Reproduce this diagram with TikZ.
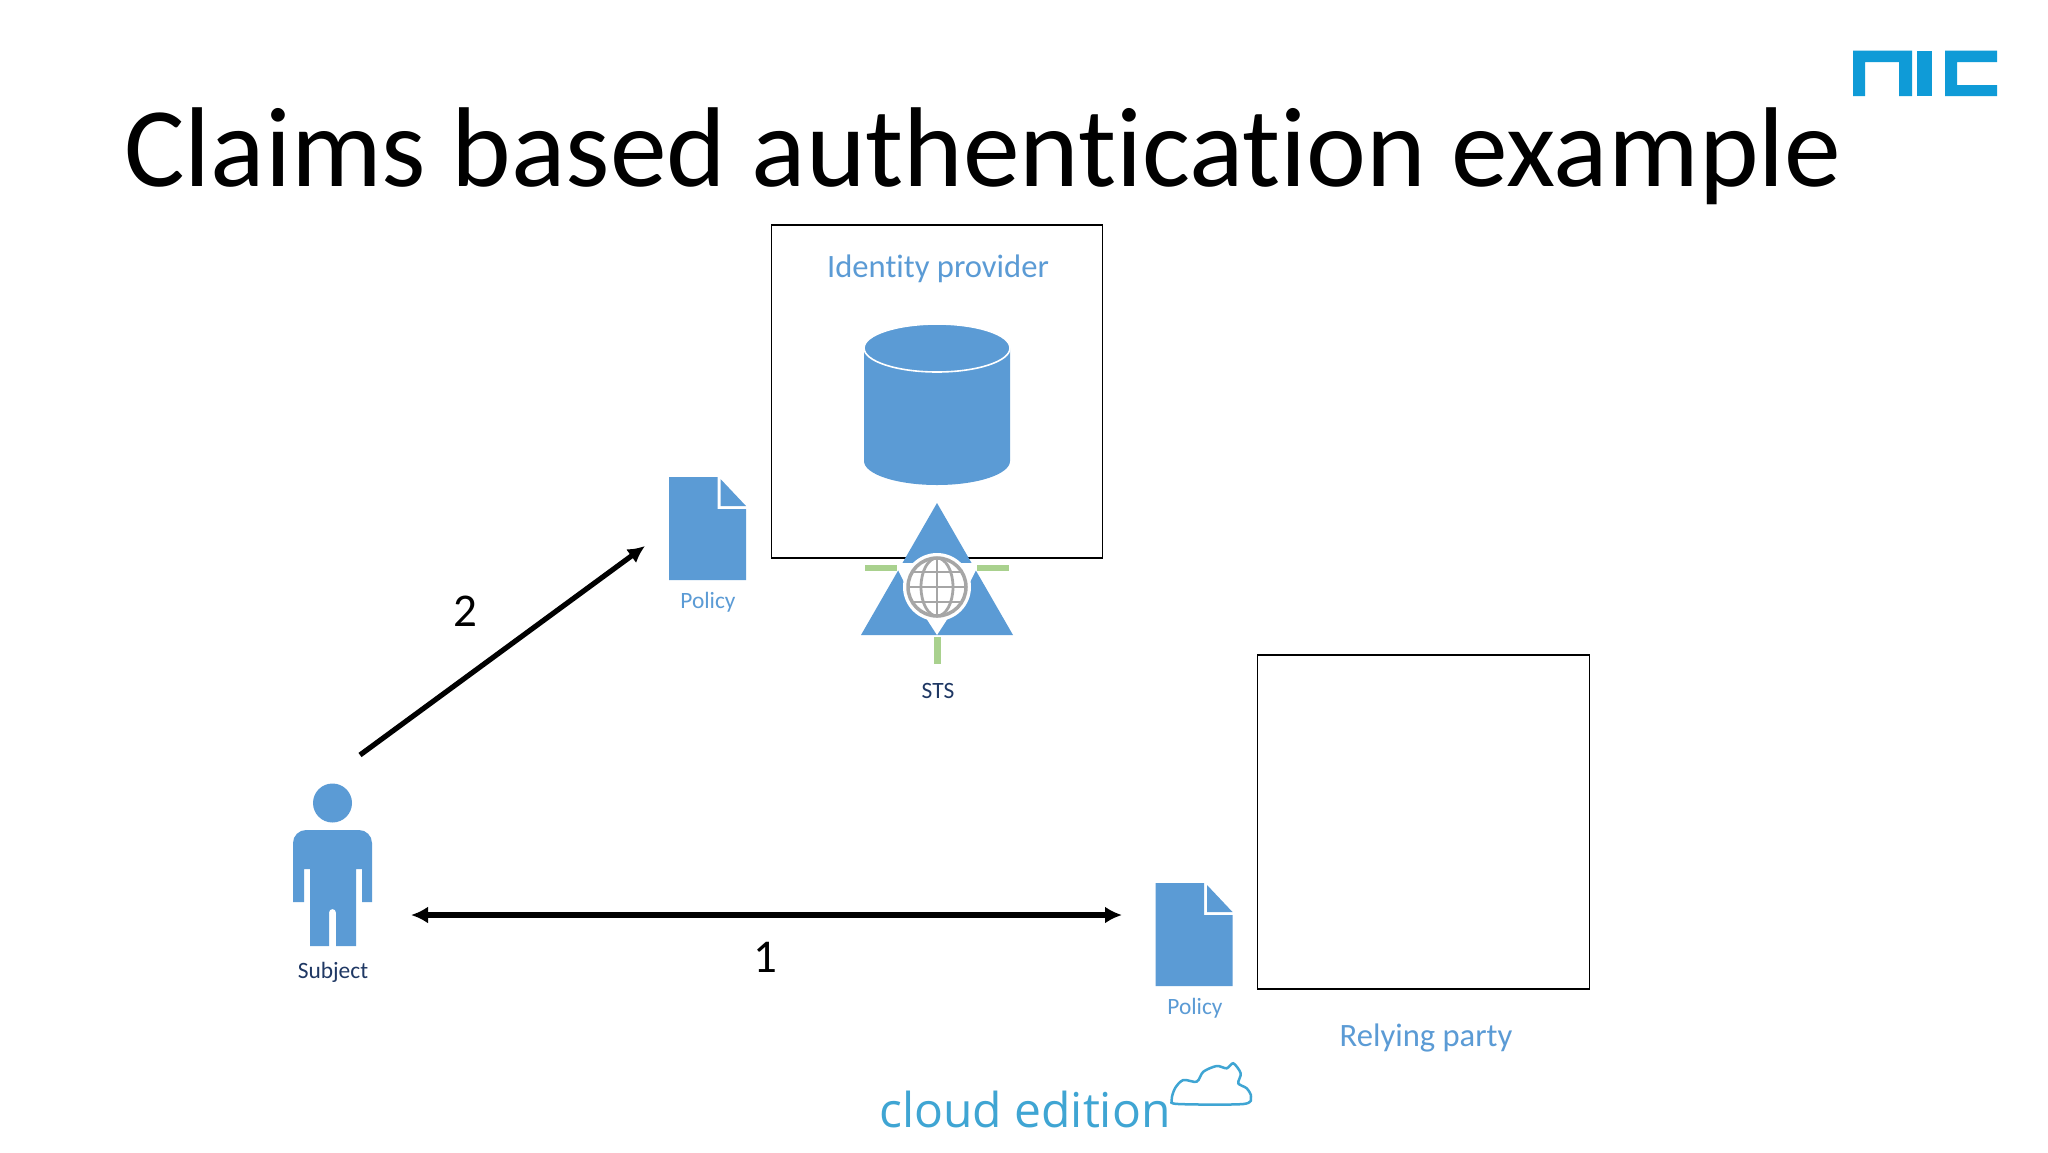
\documentclass[tikz,border=0pt]{standalone}
\usepackage{fontspec}
\setmainfont[Ligatures=NoCommon]{Carlito}
\newfontfamily\logofont{Open Sans}
\usetikzlibrary{arrows.meta,calc}
\definecolor{iconblue}{HTML}{5B9BD5}
\definecolor{labelnavy}{HTML}{1F3864}
\definecolor{tickgreen}{HTML}{A9D18E}
\definecolor{globegray}{HTML}{A6A6A6}
\definecolor{logoblue}{HTML}{0F9BD7}
\definecolor{cloudblue}{HTML}{3FA5D3}
\tikzset{>={Latex[length=17pt,width=17pt]}}
\tikzstyle{frame}=[draw,line width=1.3pt,inner sep=0pt,minimum width=331.5pt,minimum height=333pt]
\tikzstyle{blank}=[inner sep=0pt]
\tikzstyle{title}=[font=\fontsize{113.5}{113.5}\selectfont,anchor=base west,inner sep=0pt]
\tikzstyle{head}=[font=\fontsize{32.6}{32.6}\selectfont,text=iconblue,inner sep=0pt]
\tikzstyle{small}=[font=\fontsize{23.4}{23.4}\selectfont,inner sep=0pt]
\tikzstyle{number}=[font=\fontsize{47}{47}\selectfont,inner sep=0pt]
\tikzstyle{link}=[<->,line width=5.2pt]
\tikzstyle{tick}=[fill=tickgreen]
\tikzstyle{grid}=[draw=globegray,line width=3.5pt]
% document icon: x, y of top left corner, node name
\newcommand{\pDoc}[3]{
\fill[iconblue] (#1,#2) -- ++(48.5,0) -- ++(0,32) -- ++(28.5,0) -- ++(0,71) -- ++(-77,0) -- cycle;
\fill[iconblue] (#1+51.5,#2+2) -- ++(25.5,27) -- ++(-25.5,0) -- cycle;
\node[blank,minimum width=77pt,minimum height=103pt] (#3) at (#1+38.5,#2+51.5) {};
}

\begin{document}
\begin{tikzpicture}[x=1pt,y=-1pt]
\useasboundingbox (0,0) rectangle (2048,1152);
\fill[white] (0,0) rectangle (2048,1152);

\node[title] (T) at (124,186.5) {Claims based authentication example};

% logo
\fill[logoblue] (1853,50.5) -- (1912,50.5) -- (1912,96) -- (1899,96) -- (1899,62) -- (1865,62) -- (1865,96) -- (1853,96) -- cycle;
\fill[logoblue] (1917,50.5) rectangle (1932,96);
\fill[logoblue] (1945,50.5) -- (1997,50.5) -- (1997,62) -- (1957,62) -- (1957,85) -- (1997,85) -- (1997,96) -- (1945,96) -- cycle;

% boxes
\node[frame] (IdP) at (937,391.5) {};
\node[frame,minimum height=334pt] (RP) at (1423.5,822) {};
\node[head] (IdPL) at (938,269) {Identity provider};
\node[head] (RPL) at (1426,1038) {Relying party};

% database
\fill[iconblue] (864,348) -- (864,461) arc[start angle=180,end angle=0,x radius=73,y radius=24] -- (1010,348) -- cycle;
\draw[white,fill=iconblue,line width=1.6pt] (937,348) ellipse[x radius=73,y radius=24];
\node[blank,minimum width=146pt,minimum height=161pt] (DB) at (937,404.5) {};

% sts
\fill[iconblue] (937,503) -- (1013,635) -- (861,635) -- cycle;
\fill[white] (895,563) -- (915,563) -- (917,573) -- (905,584) -- (898,570) -- cycle;
\fill[white] (979,563) -- (959,563) -- (957,573) -- (969,584) -- (976,570) -- cycle;
\fill[white] (926,618) -- (937,635) -- (948,618) -- cycle;
\fill[white] (937,587) circle (34);
\fill[tick] (865,565) rectangle (897,571);
\fill[tick] (977,565) rectangle (1009,571);
\fill[tick] (933.5,637) rectangle (940.5,664);
\draw[grid] (937,587) circle (29);
\draw[grid,line width=2.8pt] (937,587) ellipse[x radius=16,y radius=29];
\draw[grid,line width=2.8pt] (937,558) -- (937,616);
\draw[grid,line width=2.8pt] (909,587) -- (965,587);
\draw[grid,line width=2.8pt] (913,572) -- (961,572);
\draw[grid,line width=2.8pt] (913,602) -- (961,602);
\node[blank,minimum width=152pt,minimum height=161pt] (STS) at (937,583.5) {};
\node[small,text=labelnavy] (STSL) at (938,691) {STS};

% documents
\pDoc{669}{477}{PolicyA}
\pDoc{1155.5}{883}{PolicyB}
\node[small,text=iconblue] (PolicyAL) at (708,602) {Policy};
\node[small,text=iconblue] (PolicyBL) at (1195,1008) {Policy};

% person
\fill[iconblue] (332.5,803) circle (19.5);
\fill[iconblue] (293,902) -- (293,843) arc[start angle=180,end angle=270,radius=13] -- (359,830) arc[start angle=270,end angle=360,radius=13] -- (372,902) -- (362,902) -- (362,869) -- (356,869) -- (356,946) -- (336,946) -- (336,912.5) arc[start angle=360,end angle=180,radius=3.5] -- (329,946) -- (310,946) -- (310,869) -- (304,869) -- (304,902) -- cycle;
\node[blank,minimum width=79pt,minimum height=162pt] (Subject) at (332.5,865) {};
\node[small,text=labelnavy] (SubjectL) at (333,972) {Subject};

% arrows
\coordinate (OneA) at (411,915);
\coordinate (OneB) at (1122,915);
\coordinate (TwoA) at (360,755);
\coordinate (TwoB) at (645,546);
\draw[link] (OneA) -- (OneB);
\draw[link,<-] (TwoB) -- (TwoA);
\node[number] (One) at (765,957) {1};
\node[number] (Two) at (465,611) {2};

% cloud edition
\node[font=\logofont\fontsize{48}{48}\selectfont,text=cloudblue,anchor=base west,inner sep=0pt] (CE) at (879,1127) {cloud edition};
\draw[cloudblue,line width=2.5pt] plot[smooth cycle] coordinates {(1171.7,1100) (1178.3,1104) (1243.3,1104) (1251,1096.7) (1246.7,1088.3) (1238.3,1083.3) (1240.7,1073.3) (1233.3,1063.3) (1226.7,1068.3) (1216.7,1066) (1203.3,1071.7) (1196.7,1081.7) (1183.3,1080) (1175,1088.3)};

\end{tikzpicture}
\end{document}
